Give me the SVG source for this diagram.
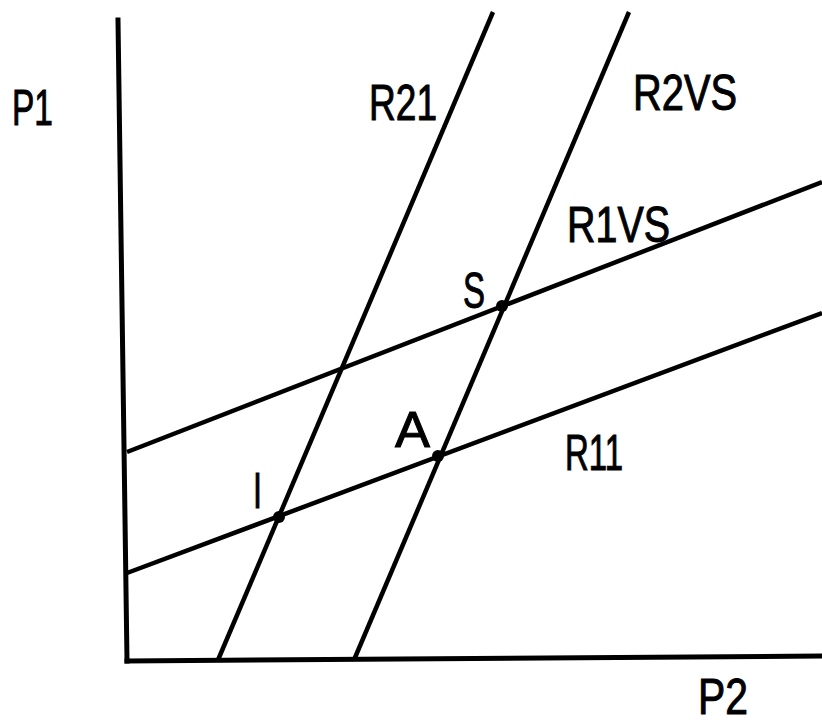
<svg xmlns="http://www.w3.org/2000/svg" width="822" height="726" viewBox="0 0 822 726">
<style>
.ax{stroke:#000;stroke-width:5;fill:none;stroke-linecap:square}
.ln{stroke:#000;stroke-width:4.5;fill:none}
.pt{fill:#000}
.lb{font-family:"Liberation Sans","DejaVu Sans",sans-serif;font-size:50px;fill:#000;stroke:#000;stroke-width:1}
</style>
<rect width="822" height="726" fill="#fff"/>
<g id="axes">
<line class="ax" x1="118" y1="20" x2="127" y2="661"/>
<line class="ax" x1="127" y1="661" x2="822" y2="656"/>
</g>
<g id="connectors">
<line id="R21-line" class="ln" x1="218" y1="660" x2="493" y2="12"/>
<line id="R2VS-line" class="ln" x1="354" y1="660" x2="629" y2="12"/>
<line id="R1VS-line" class="ln" x1="127" y1="452" x2="822" y2="182"/>
<line id="R11-line" class="ln" x1="127" y1="573" x2="822" y2="313"/>
</g>
<g id="point-S"><circle class="pt" cx="502" cy="306" r="6"/><text class="lb" x="463" y="308" textLength="22" lengthAdjust="spacingAndGlyphs">S</text></g>
<g id="point-A"><circle class="pt" cx="438" cy="456" r="6"/><text class="lb" x="395" y="447" textLength="35" lengthAdjust="spacingAndGlyphs">A</text></g>
<g id="point-I"><circle class="pt" cx="279" cy="517" r="6"/><text class="lb" x="253" y="508" textLength="9" lengthAdjust="spacingAndGlyphs">I</text></g>
<g id="label-P1"><text class="lb" x="12" y="125" textLength="41" lengthAdjust="spacingAndGlyphs">P1</text></g>
<g id="label-P2"><text class="lb" x="698" y="714" textLength="50" lengthAdjust="spacingAndGlyphs">P2</text></g>
<g id="label-R21"><text class="lb" x="369" y="120" textLength="68" lengthAdjust="spacingAndGlyphs">R21</text></g>
<g id="label-R2VS"><text class="lb" x="633" y="110" textLength="104" lengthAdjust="spacingAndGlyphs">R2VS</text></g>
<g id="label-R1VS"><text class="lb" x="567" y="242" textLength="103" lengthAdjust="spacingAndGlyphs">R1VS</text></g>
<g id="label-R11"><text class="lb" x="565" y="470" textLength="58" lengthAdjust="spacingAndGlyphs">R11</text></g>
</svg>
